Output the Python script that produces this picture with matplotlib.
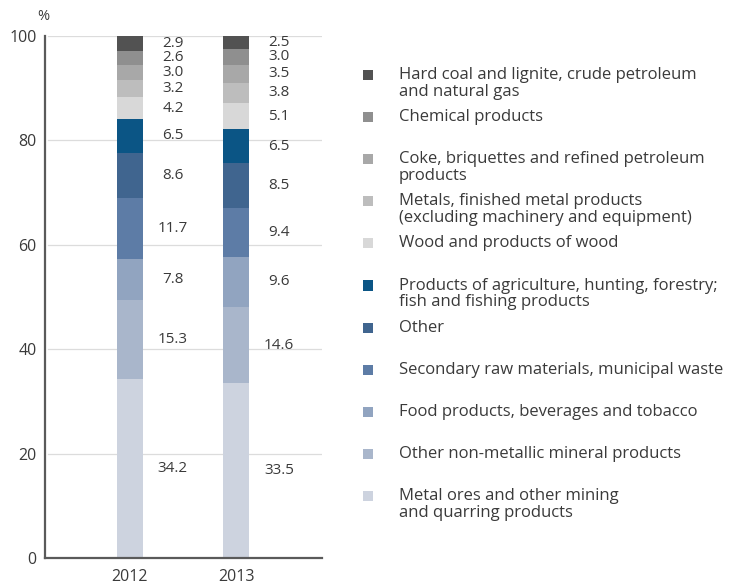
import matplotlib
matplotlib.use("Agg")
import matplotlib.pyplot as plt
from matplotlib.patches import Rectangle

plt.rcParams['font.family'] = ['Open Sans', 'DejaVu Sans']

years = ["2012", "2013"]

# Categories listed bottom-to-top of the stack
categories = [
    "Metal ores and other mining\nand quarring products",
    "Other non-metallic mineral products",
    "Food products, beverages and tobacco",
    "Secondary raw materials, municipal waste",
    "Other",
    "Products of agriculture, hunting, forestry;\nfish and fishing products",
    "Wood and products of wood",
    "Metals, finished metal products\n(excluding machinery and equipment)",
    "Coke, briquettes and refined petroleum\nproducts",
    "Chemical products",
    "Hard coal and lignite, crude petroleum\nand natural gas",
]
share_2012 = [34.2, 15.3, 7.8, 11.7, 8.6, 6.5, 4.2, 3.2, 3.0, 2.6, 2.9]
share_2013 = [33.5, 14.6, 9.6, 9.4, 8.5, 6.5, 5.1, 3.8, 3.5, 3.0, 2.5]
colors = ["#cdd3df", "#a9b6cb", "#91a4c0", "#5d7ca6", "#40658f",
          "#0b5585", "#d8d8d8", "#bdbdbd", "#a8a8a8", "#8f8f8f", "#525252"]
y_ticks = [0, 20, 40, 60, 80, 100]

text_color = "#3a3a3a"

fig = plt.figure(figsize=(7.44, 5.85), dpi=100)
ax = fig.add_axes([45 / 744, 27 / 585, 277 / 744, 522 / 585])

series = [share_2012, share_2013]
bar_w = 0.245
for xi, vals in enumerate(series):
    bottom = 0.0
    for v, c in zip(vals, colors):
        ax.bar(xi, v, bottom=bottom, width=bar_w, color=c, edgecolor="none", zorder=2)
        ax.text(xi + 0.405, bottom + v / 2, f"{v:.1f}", ha="center", va="center",
                fontsize=11, color=text_color, zorder=3)
        bottom += v

ax.set_xlim(-0.80, 1.81)
ax.set_ylim(0, 100)
ax.set_yticks(y_ticks)
ax.set_yticklabels([str(t) for t in y_ticks])
ax.set_xticks(range(len(years)))
ax.set_xticklabels(years)
ax.tick_params(axis="both", length=0, labelsize=11.5, colors=text_color)
ax.tick_params(axis="y", pad=6)
ax.tick_params(axis="x", pad=8)

for t in y_ticks[1:]:
    ax.axhline(t, xmin=0.01, xmax=1.0, color="#dcdcdc", lw=0.9, zorder=1)

for side in ["top", "right"]:
    ax.spines[side].set_visible(False)
for side in ["left", "bottom"]:
    ax.spines[side].set_color("#5a5a5a")
    ax.spines[side].set_linewidth(1.6)

fig.text(37 / 744, 1 - 17 / 585, "%", fontsize=10.5, color=text_color, ha="left", va="center")

# Legend, top entry first
x_marker = 368
x_text = 399
y0 = 75
step = 42.1
for i, (lab, c) in enumerate(zip(categories[::-1], colors[::-1])):
    yc = y0 + i * step
    fig.patches.append(Rectangle(((x_marker - 5) / 744, 1 - (yc + 5) / 585),
                                 10 / 744, 10 / 585, transform=fig.transFigure,
                                 facecolor=c, edgecolor="none"))
    fig.text(x_text / 744, 1 - (yc - 8) / 585, lab, fontsize=12, color=text_color,
             ha="left", va="top", linespacing=1.08)

fig.savefig("out.png", dpi=100)
